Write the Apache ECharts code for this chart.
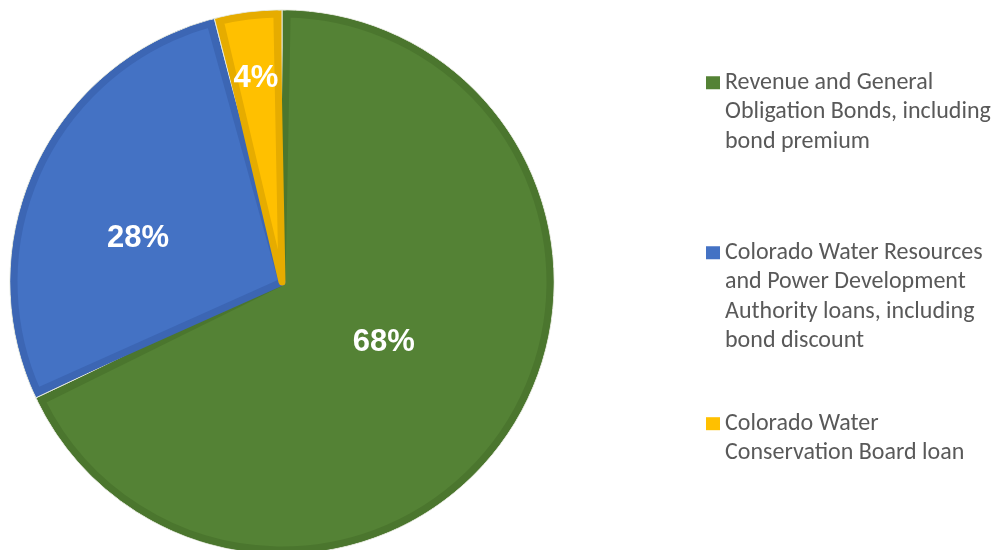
<!DOCTYPE html>
<html>
<head>
<meta charset="utf-8">
<script src="https://cdn.jsdelivr.net/npm/echarts@6/dist/echarts.min.js"></script>
<style>html,body{margin:0;padding:0;background:#fff;}#c{width:995px;height:550px;}</style>
</head>
<body>
<div id="c"></div>
<script>
var categories = [
  'Revenue and General\nObligation Bonds, including\nbond premium',
  'Colorado Water Resources\nand Power Development\nAuthority loans, including\nbond discount',
  'Colorado Water\nConservation Board loan'
];
var values = [68, 28, 4];

var fillColors = ['#548235', '#4472C4', '#FFC000'];
var borderColors = ['#4B762E', '#3C66B4', '#E6AC00'];
var labelOffsets = [[-14, -13], [-20, 15], [-9, -68]];
var legendTops = [68, 238, 409];
var LH = 29.4;

var chart = echarts.init(document.getElementById('c'), null, {renderer: 'canvas'});

function legendIcon(n) {
  var h = n * LH;
  var t = LH / 2 - 6.5;
  return 'path://M0,0L0,0M0,' + t + 'H14V' + (t + 13) + 'H0Z M14,' + h + 'L14,' + h;
}

var fillData = categories.map(function (name, i) {
  return {
    name: name,
    value: values[i],
    itemStyle: {color: fillColors[i], borderColor: borderColors[i]},
    label: {offset: labelOffsets[i]}
  };
});
var darkData = categories.map(function (name, i) {
  return {name: name, value: values[i], itemStyle: {color: borderColors[i]}};
});

var legends = categories.map(function (name, i) {
  var n = name.split('\n').length;
  return {
    data: [{name: name, icon: legendIcon(n)}],
    orient: 'vertical',
    left: 706,
    top: legendTops[i],
    padding: 0,
    itemWidth: 14,
    itemHeight: n * LH,
    symbolKeepAspect: false,
    selectedMode: false,
    itemStyle: {borderWidth: 0, color: fillColors[i]},
    textStyle: {
      fontFamily: 'Carlito, "Open Sans", "Noto Sans", sans-serif',
      fontSize: 24,
      color: '#595959',
      lineHeight: LH
    }
  };
});

chart.setOption({
  animation: false,
  backgroundColor: '#ffffff',
  legend: legends,
  series: [{
    type: 'pie',
    z: 3,
    center: [282, 282],
    radius: [0, 268],
    startAngle: 90,
    clockwise: true,
    padAngle: 2.2,
    avoidLabelOverlap: false,
    itemStyle: {borderWidth: 7, borderJoin: 'round'},
    emphasis: {disabled: true},
    label: {
      show: true,
      position: 'inside',
      formatter: '{c}%',
      color: '#ffffff',
      fontFamily: '"Liberation Sans", Arial, sans-serif',
      fontWeight: 'bold',
      fontSize: 31
    },
    labelLine: {show: false},
    data: fillData
  }, {
    type: 'pie',
    z: 2,
    center: [282, 282],
    radius: [0, 272],
    startAngle: 90,
    clockwise: true,
    silent: true,
    itemStyle: {borderWidth: 1, borderColor: '#E4E8DC'},
    emphasis: {disabled: true},
    label: {show: false},
    labelLine: {show: false},
    data: darkData
  }]
});
</script>
</body>
</html>
